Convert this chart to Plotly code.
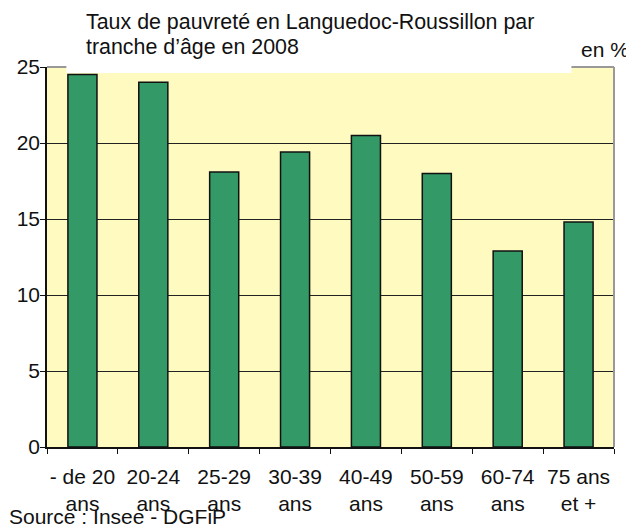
import plotly.graph_objects as go

categories = ["- de 20<br>ans", "20-24<br>ans", "25-29<br>ans", "30-39<br>ans",
              "40-49<br>ans", "50-59<br>ans", "60-74<br>ans", "75 ans<br>et +"]
values = [24.5, 24.0, 18.1, 19.4, 20.5, 18.0, 12.9, 14.8]
y_ticks = [0, 5, 10, 15, 20, 25]

title_lines = ["Taux de pauvreté en Languedoc-Roussillon par", "tranche d’âge en 2008"]
unit_label = "en %"
source_label = "Source : Insee - DGFiP"

FONT = "Liberation Sans, Arial, sans-serif"
FS = 21
OFF = 8  # page body margin
W, H = 634 - OFF, 531 - OFF
# plot area in page pixels
PX0, PX1, PY0, PY1 = 47.3, 614.3, 66.6, 447.0
L = PX0 - OFF
T = PY0 - OFF
R = W - (PX1 - OFF)
B = H - (PY1 - OFF)
pw = PX1 - PX0
ph = PY1 - PY0

def px_x(x):
    return (x - PX0) / pw

def px_y(y):
    return (PY1 - y) / ph

fig = go.Figure()
fig.add_trace(go.Bar(
    x=categories, y=values,
    marker=dict(color="#339966", line=dict(color="#111111", width=1.5)),
    width=0.41,
))

fig.update_layout(
    width=W, height=H,
    margin=dict(l=L, r=R, t=T, b=B, autoexpand=False),
    paper_bgcolor="white",
    plot_bgcolor="#FFFAC0",
    showlegend=False,
    font=dict(family=FONT, size=FS, color="#111111"),
)
fig.update_xaxes(
    showgrid=False, showline=True, linecolor="#111111", linewidth=1.5,
    ticks="outside", ticklen=5, tickcolor="#111111", tickson="boundaries",
    tickangle=0, automargin=False, ticklabelstandoff=10,
    tickfont=dict(size=FS, family=FONT, color="#111111"),
)
fig.update_yaxes(
    range=[0, 25], tickvals=y_ticks, showgrid=True, gridcolor="#222222", gridwidth=1,
    showline=True, linecolor="#111111", linewidth=1.5,
    ticks="outside", ticklen=5, tickcolor="#111111", automargin=False,
    ticklabelstandoff=-4,
    tickfont=dict(size=FS, family=FONT, color="#111111"),
    zeroline=False,
)

# gray frame on top and right
fig.add_shape(type="line", xref="paper", yref="paper", x0=1, x1=1, y0=0, y1=1,
              line=dict(color="#999999", width=2))
fig.add_shape(type="line", xref="paper", yref="paper", x0=0, x1=1, y0=1, y1=1,
              line=dict(color="#999999", width=2))
# white title box overlapping the top of the plot area
fig.add_shape(type="rect", xref="paper", yref="paper",
              x0=px_x(66.7), x1=px_x(571.7), y0=px_y(72.7), y1=1.05,
              fillcolor="white", line=dict(width=0), layer="above")

TFS = 21.4
fig.add_annotation(text=title_lines[0], xref="paper", yref="paper",
                   x=px_x(84), y=px_y(22), xanchor="left", yanchor="middle",
                   showarrow=False, font=dict(size=TFS, family=FONT, color="#111111"))
fig.add_annotation(text=title_lines[1], xref="paper", yref="paper",
                   x=px_x(84), y=px_y(47), xanchor="left", yanchor="middle",
                   showarrow=False, font=dict(size=TFS, family=FONT, color="#111111"))
fig.add_annotation(text=unit_label, xref="paper", yref="paper",
                   x=px_x(631), y=px_y(49), xanchor="right", yanchor="middle",
                   showarrow=False, font=dict(size=FS, family=FONT, color="#111111"))
fig.add_annotation(text=source_label, xref="paper", yref="paper",
                   x=px_x(8.5), y=px_y(517), xanchor="left", yanchor="middle",
                   borderpad=0,
                   showarrow=False, font=dict(size=FS, family=FONT, color="#111111"))

fig.write_html("out.html")
